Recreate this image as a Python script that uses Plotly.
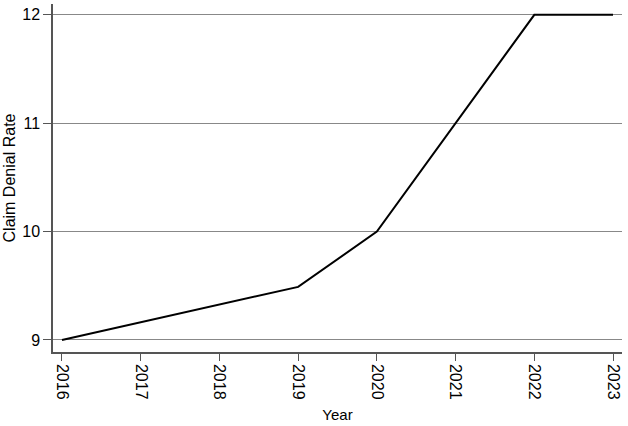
import plotly.graph_objects as go

# Claim denial rate by year
years = [2016, 2017, 2018, 2019, 2020, 2021, 2022, 2023]
denial_rate = [9.0, 9.165, 9.33, 9.49, 10.0, 11.0, 12.0, 12.0]
y_ticks = [9, 10, 11, 12]

fig = go.Figure()
fig.add_trace(go.Scatter(
    x=years, y=denial_rate, mode="lines",
    line=dict(color="black", width=2),
    showlegend=False,
))

fig.update_layout(
    width=628, height=426,
    margin=dict(l=53, r=6, t=4, b=74),
    paper_bgcolor="white", plot_bgcolor="white",
    font=dict(family="Liberation Sans, Arial, sans-serif", size=16, color="black"),
)
fig.update_xaxes(
    title_text="Year", title_standoff=11, title_font_size=15,
    range=[2015.886, 2023.114],
    tickvals=years, tickangle=90, tickfont_size=16,
    ticks="outside", ticklen=7, tickcolor="#555",
    showgrid=False, zeroline=False, automargin=False,
    showline=True, linecolor="#555", linewidth=1.5,
)
fig.update_yaxes(
    title_text="Claim Denial Rate", title_standoff=3, title_font_size=16,
    range=[8.889, 12.10],
    tickvals=y_ticks, tickfont_size=16,
    ticks="outside", ticklen=8, tickcolor="#555",
    showgrid=True, gridcolor="#888", gridwidth=1,
    zeroline=False, automargin=False,
    showline=True, linecolor="#555", linewidth=1.5,
)

# page body has a default 8px margin; drop it so the figure fills the window
fig.write_html("out.html", config={"displayModeBar": False},
               post_script="document.body.style.margin='0';")
